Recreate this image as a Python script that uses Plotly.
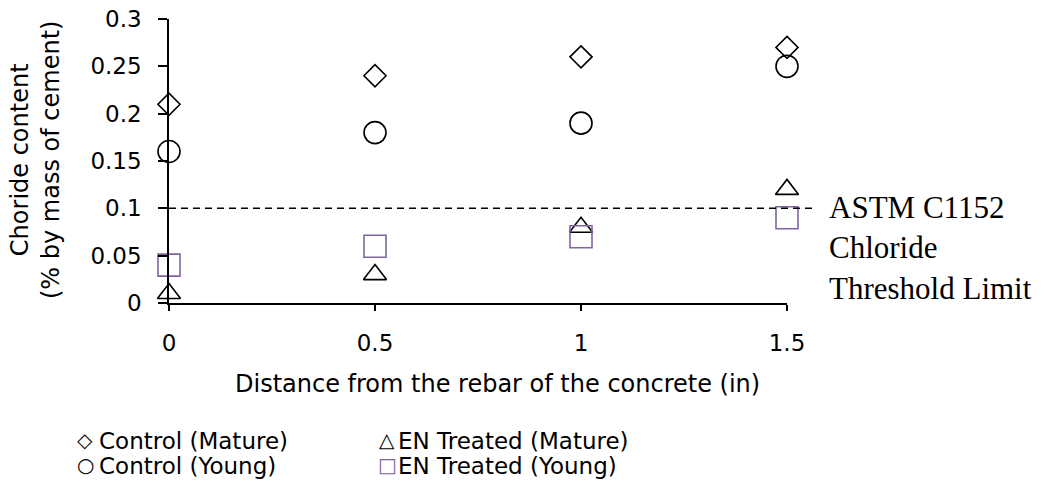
import plotly.graph_objects as go

# Chloride content measured at increasing distance from the rebar
distance = [0, 0.5, 1, 1.5]
control_mature = [0.21, 0.24, 0.26, 0.27]
control_young = [0.16, 0.18, 0.19, 0.25]
en_mature = [0.01, 0.03, 0.08, 0.12]
en_young = [0.04, 0.06, 0.07, 0.09]

threshold = 0.1          # ASTM C1152 chloride threshold limit
threshold_end_x = 1.573  # dashed line runs a little past the last tick

x_ticks = [0, 0.5, 1, 1.5]
x_tick_text = ["0", "0.5", "1", "1.5"]
y_ticks = [0, 0.05, 0.1, 0.15, 0.2, 0.25, 0.3]
y_tick_text = ["0", "0.05", "0.1", "0.15", "0.2", "0.25", "0.3"]
x_range = [0, 1.5]
y_range = [0, 0.3]

SANS = "DejaVu Sans, Arial, sans-serif"
SERIF = "Liberation Serif, Times New Roman, serif"
PURPLE = "#8064A2"

series = [
    # name, values, marker symbol, size, colour, legend key glyph
    ("Control (Mature)", control_mature, "diamond-open", 17, "black", "◇"),
    ("EN Treated (Mature)", en_mature, "triangle-up-open", 20, "black", "△"),
    ("Control (Young)", control_young, "circle-open", 22, "black", "○"),
    ("EN Treated (Young)", en_young, "square-open", 22, PURPLE, "□"),
]

# plot area in pixels (figure is 1041 x 493)
W, H = 1041, 493
L, R, T, B = 169, 787, 19, 303


def paper_x(px):
    return (px - L) / (R - L)


def paper_y(py):
    return (B - py) / (B - T)


fig = go.Figure()
for name, vals, symbol, size, color, _ in series:
    fig.add_trace(go.Scatter(
        x=distance, y=vals, name=name, mode="markers",
        cliponaxis=False, showlegend=False,
        marker=dict(symbol=symbol, size=size, color=color,
                    line=dict(color=color, width=1.6)),
    ))

# Threshold line, in paper units so it can run past the plot edge
x_span = x_range[1] - x_range[0]
y_span = y_range[1] - y_range[0]
y_thr = (threshold - y_range[0]) / y_span
fig.add_shape(type="line", xref="paper", yref="paper",
              x0=0, x1=(threshold_end_x - x_range[0]) / x_span,
              y0=y_thr, y1=y_thr,
              line=dict(color="black", width=1.5, dash="7px,5px"))

annotations = [
    dict(x=paper_x(827), y=paper_y(188), xanchor="left", yanchor="top",
         text="ASTM C1152<br>Chloride<br>Threshold Limit", align="left",
         font=dict(family=SERIF, size=31, color="black")),
    # axis titles
    dict(x=paper_x(497), y=paper_y(384), xanchor="center", yanchor="middle",
         text="Distance from the rebar of the concrete (in)",
         font=dict(family=SANS, size=24, color="black")),
    dict(x=paper_x(35), y=paper_y(160), xanchor="center", yanchor="middle",
         textangle=-90, text="Choride content<br>(% by mass of cement)",
         font=dict(family=SANS, size=24, color="black")),
]

# Legend: two columns, two rows
key_x = [85, 387]
text_x = [97, 396]
row_y = [441, 466]
for i, (name, _, _, _, color, glyph) in enumerate(series):
    col, row = i % 2, i // 2
    annotations.append(dict(
        x=paper_x(key_x[col]), y=paper_y(row_y[row] - 1),
        xanchor="center", yanchor="middle", text=glyph,
        font=dict(family=SANS, size=20, color=color)))
    annotations.append(dict(
        x=paper_x(text_x[col]), y=paper_y(row_y[row]),
        xanchor="left", yanchor="middle", text=name,
        font=dict(family=SANS, size=23, color="black")))

for a in annotations:
    a.update(xref="paper", yref="paper", showarrow=False)
    fig.add_annotation(**a)

fig.update_layout(
    width=W, height=H,
    margin=dict(l=L, r=W - R, t=T, b=H - B, autoexpand=False),
    paper_bgcolor="white", plot_bgcolor="white",
    font=dict(family=SANS, size=23, color="black"),
    showlegend=False,
)

fig.update_xaxes(
    range=x_range, tickvals=x_ticks, ticktext=x_tick_text,
    showline=True, linecolor="black", linewidth=1.5,
    ticks="outside", ticklen=6, tickwidth=1.5, tickcolor="black",
    showgrid=False, zeroline=False, ticklabelstandoff=13,
    tickfont=dict(family=SANS, size=23), automargin=False,
)
fig.update_yaxes(
    range=y_range, tickvals=y_ticks, ticktext=y_tick_text,
    showline=True, linecolor="black", linewidth=1.5,
    ticks="outside", ticklen=9, tickwidth=1.5, tickcolor="black",
    showgrid=False, zeroline=False, ticklabelstandoff=12,
    tickfont=dict(family=SANS, size=23), automargin=False,
)

fig.write_html("out.html")
